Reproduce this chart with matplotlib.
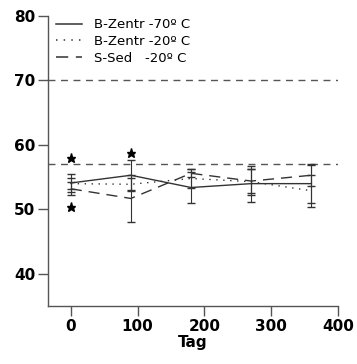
import matplotlib.pyplot as plt
from matplotlib.lines import Line2D

# Datos
tage = [0, 90, 180, 270, 360]

zentr70 = [54.1, 55.3, 53.4, 54.0, 54.0]
zentr70_err = [1.4, 2.3, 2.4, 2.8, 3.0]

zentr20 = [54.0, 53.9, 54.8, 54.3, 52.9]
zentr20_err = [0.9, 1.0, 1.4, 2.0, 2.5]

sed20 = [53.2, 51.7, 55.6, 54.4, 55.3]
sed20_err = [1.0, 3.6, 0.6, 1.8, 1.6]

referencias = [70, 57]

sterne_x = [0, 0, 90]
sterne_y = [57.9, 50.4, 58.8]

xticks = [0, 100, 200, 300, 400]
yticks = [40, 50, 60, 70, 80]

etiquetas = ['B-Zentr -70º C', 'B-Zentr -20º C', 'S-Sed   -20º C']

plt.rcParams['font.family'] = ['DejaVu Sans']

fig = plt.figure(figsize=(3.57, 3.64), dpi=100)
ax = fig.add_axes([0.1345, 0.159, 0.8125, 0.797])

col = '#333333'
estilos = ['-', (0, (1, 4)), (0, (8, 5))]

# Líneas de referencia
for r in referencias:
    ax.axhline(r, color='#555555', lw=1.0, ls=(0, (5, 4)))

for ys, es, ls in zip([zentr70, zentr20, sed20], [zentr70_err, zentr20_err, sed20_err], estilos):
    ax.errorbar(tage, ys, yerr=es, color=col, lw=1.0, ls=ls,
                capsize=3, elinewidth=0.8)

# Marcas de significancia
ax.plot(sterne_x, sterne_y, ls='none', marker='*', markersize=6.5, color='black')

ax.set_xlim(-34, 400)
ax.set_ylim(35, 80)
ax.set_xticks(xticks)
ax.set_yticks(yticks)

for s in ['top', 'right']:
    ax.spines[s].set_visible(False)
for s in ['left', 'bottom']:
    ax.spines[s].set_color('#555555')
    ax.spines[s].set_linewidth(1.0)

ax.tick_params(axis='both', colors='#555555', labelcolor='black', length=7, width=1.0,
               labelsize=11, pad=2)
for lbl in ax.get_xticklabels() + ax.get_yticklabels():
    lbl.set_fontweight('bold')

ax.set_xlabel('Tag', fontsize=11, fontweight='bold', labelpad=1)

handles = [Line2D([], [], color=col, lw=1.1, ls=ls) for ls in estilos]
fig.legend(handles, etiquetas, loc='upper left', bbox_to_anchor=(0.157, 0.950),
           bbox_transform=fig.transFigure, frameon=False, borderpad=0, borderaxespad=0,
           fontsize=9.5, handlelength=2.0, handletextpad=0.85, labelspacing=0.29)

plt.savefig('out.png', dpi=100)
